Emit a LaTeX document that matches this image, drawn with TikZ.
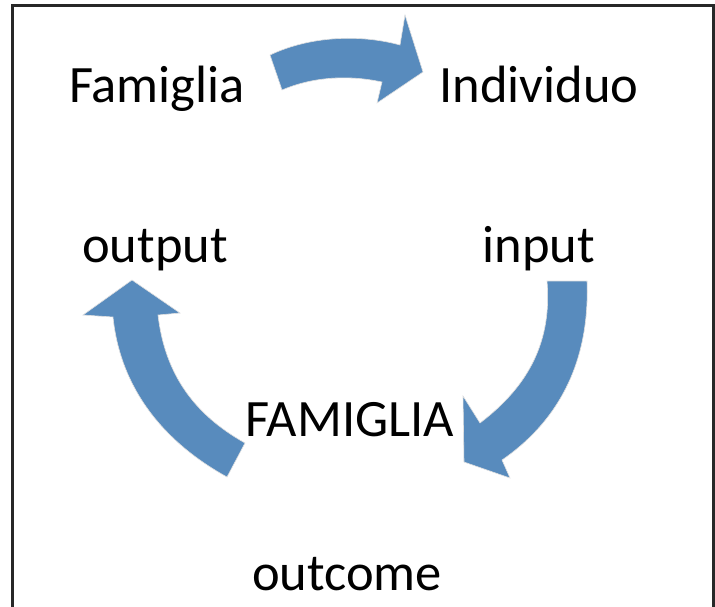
\documentclass[tikz,border=0pt]{standalone}
\usepackage{fontspec}
\setmainfont{Carlito}
\usepackage{tikz}
\definecolor{arrowblue}{RGB}{88,139,189}
\definecolor{framegray}{RGB}{40,40,40}

\begin{document}
\begin{tikzpicture}[x=1pt, y=-1pt,
    word/.style={anchor=base, inner sep=0pt, font=\fontsize{52.5}{63}\selectfont},
    blockarrow/.style={fill=arrowblue, draw=black!12, line width=0.6pt, line join=miter}]
    \useasboundingbox (0,0) rectangle (715,607);
    % frame, open at the bottom
    \draw[framegray, line width=3pt] (12,620) -- (12,6) -- (713,6) -- (713,620);

    % words
    \node[word] (famiglia)  at (157,103) {Famiglia};
    \node[word] (individuo) at (539,103) {Individuo};
    \node[word] (output)    at (155,262) {output};
    \node[word] (input)     at (539,262) {input};
    \node[word] (famcap)    at (350,436) {FAMIGLIA};
    \node[word] (outcome)   at (347,590) {outcome};

    % top arrow: Famiglia -> Individuo
    \draw[blockarrow] (270,55) .. controls (310,36) and (360,34) .. (400,45)
        -- (405,15) -- (423,72) -- (377,103) -- (382,82)
        .. controls (345,74) and (310,78) .. (282,90) -- cycle;

    % right arrow: input -> FAMIGLIA
    \draw[blockarrow] (547,281) -- (587,281)
        .. controls (590,360) and (560,420) .. (502,460)
        -- (510,478) -- (464,462) -- (463,396) -- (480,423)
        .. controls (530,385) and (552,340) .. cycle;

    % left arrow: FAMIGLIA -> output
    \draw[blockarrow] (245,443) -- (227,477)
        .. controls (160,440) and (120,385) .. (113,317)
        -- (83,315) -- (132,280) -- (180,313) -- (158,315)
        .. controls (165,375) and (195,415) .. cycle;
\end{tikzpicture}
\end{document}
